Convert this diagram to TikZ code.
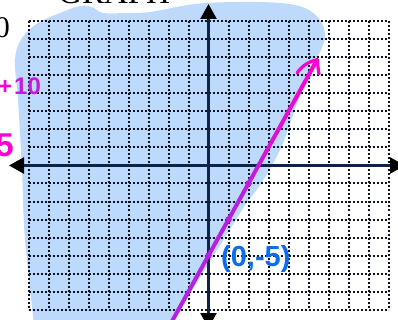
\documentclass[tikz,border=0pt]{standalone}
\usepackage{fontspec}
\setmainfont{Liberation Serif}
\newfontfamily\handfont{Liberation Sans}
\usetikzlibrary{arrows.meta,calc}
\definecolor{blobblue}{RGB}{189,218,252}
\definecolor{gridcol}{RGB}{10,18,34}
\definecolor{axiscol}{RGB}{14,35,70}
\definecolor{linepurple}{RGB}{182,32,224}
\definecolor{linemagenta}{RGB}{255,0,210}
\definecolor{penblue}{RGB}{10,110,235}
\tikzset{
  gridline/.style={gridcol, line width=2pt, dash pattern=on 2pt off 2pt},
  axisline/.style={axiscol, line width=2.6pt, -{Triangle[length=15pt,width=16pt,fill=black,color=black]}},
  linedot/.style={circle, fill=linepurple, inner sep=0pt, minimum size=6.5pt},
  handtext/.style={font=\handfont\bfseries, inner sep=0pt}
}
\begin{document}
\begin{tikzpicture}[x=1pt,y=-1pt]
\useasboundingbox (0,0) rectangle (398,320);
\clip (0,0) rectangle (398,320);
% shaded region
\coordinate (lineStart) at (171.6,322);
\coordinate (lineEnd) at (317,60);
\fill[blobblue] (166,333) -- (245,205)
  -- plot[smooth, tension=0.6] coordinates {(245,205) (262,182) (280,150) (292,118) (302,90) (312,66) (321,50) (325,35) (320,20) (305,8) (280,3) (240,2) (195,4) (150,12) (125,13) (103,13) (92,7) (80,6) (60,13) (38,23) (22,38) (15,60) (18,100) (22,170) (25,240) (35,333)} -- cycle;
% grid
\foreach \i in {0,...,18} {
  \draw[gridline] (28.5+\i*20,21.5) -- (28.5+\i*20,309.5);
}
\foreach \j in {0,...,16} {
  \draw[gridline] (28.5,21.5+\j*18) -- (388.5,21.5+\j*18);
}
% axes
\coordinate (xLeft) at (9,165.5);
\coordinate (xRight) at (405,165.5);
\coordinate (yTop) at (208.5,4);
\coordinate (yBottom) at (208.5,328);
\coordinate (origin) at (208.5,165.5);
\draw[axisline] (origin) -- (xLeft);
\draw[axisline] (origin) -- (xRight);
\draw[axisline] (origin) -- (yTop);
\draw[axisline] (origin) -- (yBottom);
% the line, coloured from purple to magenta
\foreach \k in {0,...,19} {
  \pgfmathsetmacro{\ta}{\k/20}
  \pgfmathsetmacro{\tb}{(\k+1)/20}
  \pgfmathsetmacro{\p}{max(0,min(100,(\ta-0.45)/0.45*100))}
  \draw[line width=4pt, line cap=round, color=linemagenta!\p!linepurple]
    ($(lineStart)!\ta!(lineEnd)$) -- ($(lineStart)!\tb!(lineEnd)$);
}
% hand-drawn arrow head
\draw[linemagenta, line width=3.2pt, line cap=round, line join=round]
  (297,73) .. controls (302,66) and (309,61) .. (lineEnd) .. controls (318,64) and (318,69) .. (319,74);
% points on the line
\node[linedot] (p0) at (208.5,255.5) {};
\node[linedot] (p1) at (228.5,219.5) {};
\node[linedot] (p2) at (248.5,183.5) {};
% texts
\node[anchor=base west, inner sep=0pt, font=\fontsize{33}{33}\selectfont] (title) at (58,4) {GRAPH};
\node[anchor=base east, inner sep=0pt, font=\fontsize{30}{30}\selectfont] (ten) at (10,38) {10};
\node[handtext, anchor=base west, font=\handfont\bfseries\fontsize{24}{24}\selectfont] (plusten) at (-2,95) {\textcolor{linemagenta}{+}\kern2pt\textcolor{linepurple!80!linemagenta}{10}};
\node[handtext, anchor=base east, text=linemagenta, font=\handfont\bfseries\fontsize{33}{33}\selectfont] (five) at (14,157) {5};
\node[handtext, anchor=west, text=penblue, font=\handfont\bfseries\fontsize{29}{29}\selectfont] (label) at (221,259) {(0,-5)};
\end{tikzpicture}
\end{document}
